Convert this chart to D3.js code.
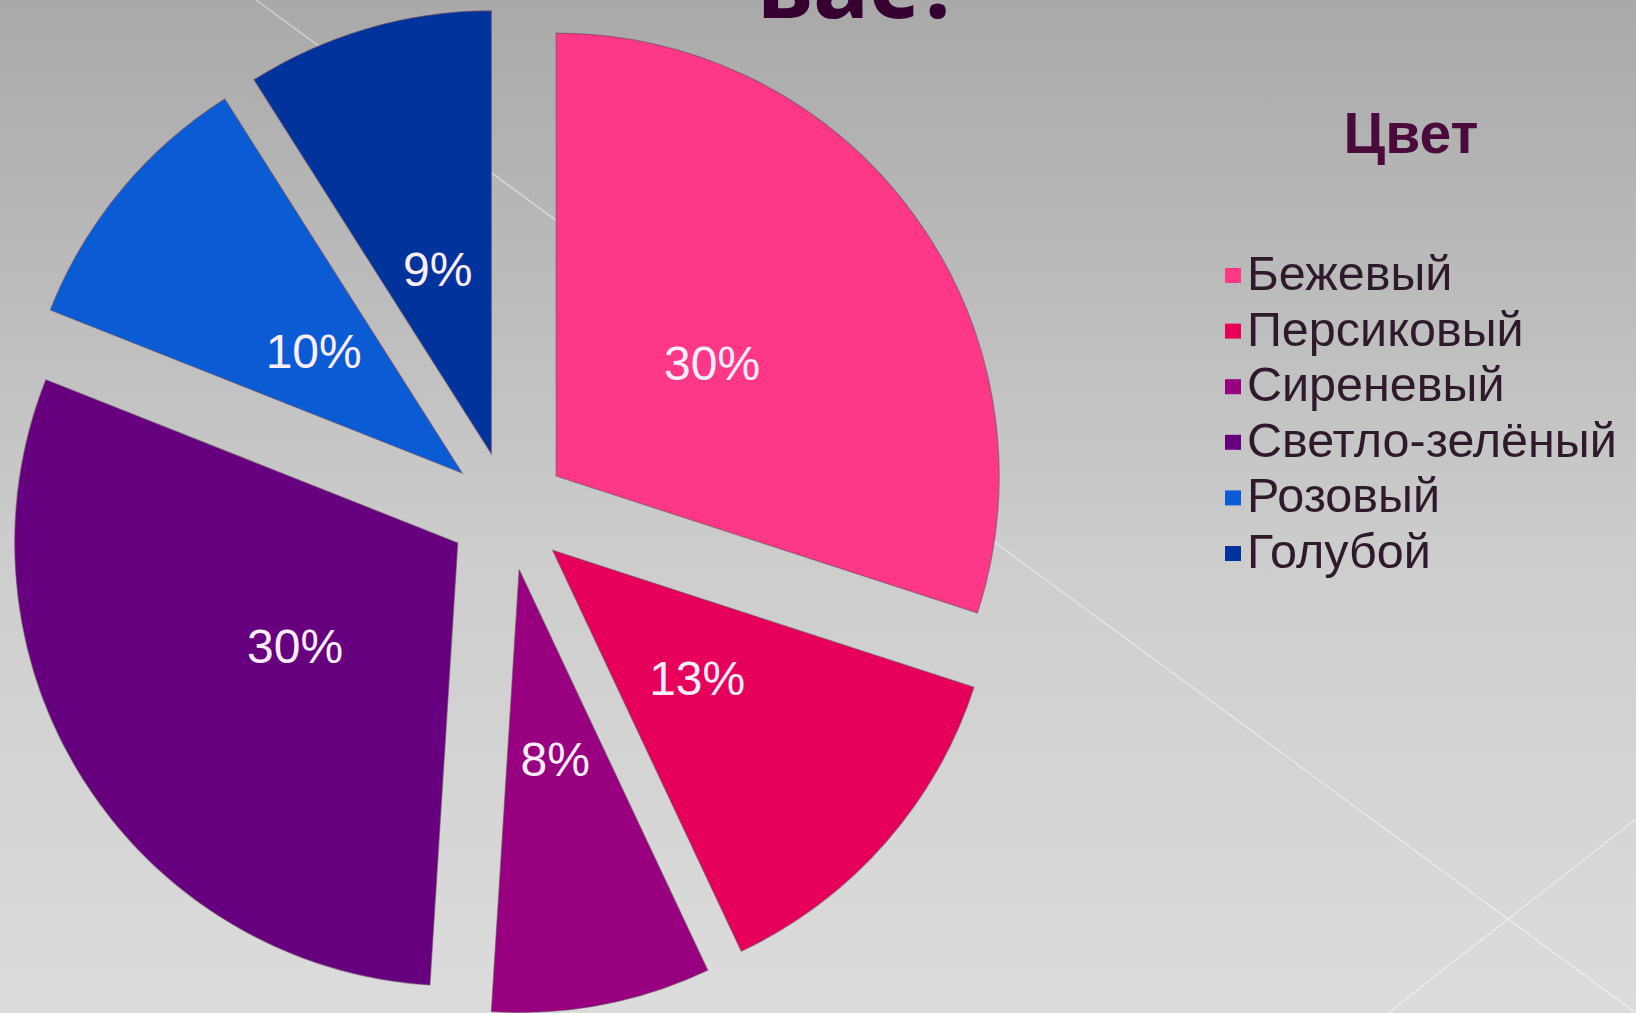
<!DOCTYPE html>
<html>
<head>
<meta charset="utf-8">
<script src="https://cdn.jsdelivr.net/npm/d3@7"></script>
<style>
  html, body { margin: 0; padding: 0; overflow: hidden; }
  svg { display: block; }
</style>
</head>
<body>
<svg width="1636" height="1013"></svg>
<script>
// chart data
var categories = ["Бежевый", "Персиковый", "Сиреневый", "Светло-зелёный", "Розовый", "Голубой"];
var values = [30, 13, 8, 30, 10, 9];
var labels = ["30%", "13%", "8%", "30%", "10%", "9%"];
var colors = ["#fe3787", "#e6005a", "#990080", "#66007f", "#0b5cd4", "#00349c"];
var legendTitle = "Цвет";
var slideTitle = "вас?";

const svg = d3.select("svg"),
  width = +svg.attr("width"),
  height = +svg.attr("height");

// slide background
var defs = svg.append("defs");
var grad = defs.append("linearGradient")
  .attr("id", "bg")
  .attr("x1", 0).attr("y1", 0)
  .attr("x2", 0).attr("y2", 1);
grad.append("stop").attr("offset", "0%").attr("stop-color", "#a9a9a9");
grad.append("stop").attr("offset", "55%").attr("stop-color", "#cdcdcd");
grad.append("stop").attr("offset", "100%").attr("stop-color", "#dcdcdc");

svg.append("rect")
  .attr("width", width)
  .attr("height", height)
  .attr("fill", "url(#bg)");

// thin decorative lines of the slide theme
var deco = svg.append("g")
  .attr("stroke", "#ffffff")
  .attr("stroke-opacity", 0.45)
  .attr("stroke-width", 1.5);
deco.append("line").attr("x1", 256).attr("y1", 0).attr("x2", 1636).attr("y2", 1013);
deco.append("line").attr("x1", 1388).attr("y1", 1013).attr("x2", 1636).attr("y2", 819);

// bottom of the slide heading, cut by the top edge like in the slide
svg.append("text")
  .attr("x", 757)
  .attr("y", 18)
  .style("font-family", "'Noto Sans', sans-serif")
  .style("font-weight", 700)
  .style("font-size", "94px")
  .style("fill", "#350030")
  .text(slideTitle);

// exploded pie
var cx = 508, cy = 511, radius = 443, explode = 59.5;

var pie = d3.pie()
  .sort(null)
  .value(function(d) { return d; });

var arc = d3.arc()
  .innerRadius(0)
  .outerRadius(radius);

var labelArc = d3.arc()
  .innerRadius(radius * 0.435)
  .outerRadius(radius * 0.435);

var arcs = pie(values);

var g = svg.append("g")
  .attr("transform", "translate(" + cx + "," + cy + ")");

let slice = g.selectAll(".slice")
    .data(arcs)
  .enter().append("g")
    .attr("class", "slice")
    .attr("transform", function(d) {
      var mid = (d.startAngle + d.endAngle) / 2;
      return "translate(" + (Math.sin(mid) * explode) + "," + (-Math.cos(mid) * explode) + ")";
    });

slice.append("path")
  .attr("d", arc)
  .style("fill", function(d, i) { return colors[i]; })
  .style("stroke", "#6a4a60")
  .style("stroke-opacity", 0.55)
  .style("stroke-width", "1.2px");

slice.append("text")
  .attr("transform", function(d) { return "translate(" + labelArc.centroid(d) + ")"; })
  .attr("text-anchor", "middle")
  .attr("dy", ".36em")
  .style("font-family", "'Liberation Sans', Arial, sans-serif")
  .style("font-size", "48px")
  .style("fill", "#fdeefc")
  .text(function(d, i) { return labels[i]; });

// legend
var legend = svg.append("g")
  .attr("class", "legend");

legend.append("text")
  .attr("x", 1411)
  .attr("y", 153)
  .attr("text-anchor", "middle")
  .style("font-family", "'Liberation Sans', Arial, sans-serif")
  .style("font-weight", 700)
  .style("font-size", "57px")
  .style("fill", "#4a0b3c")
  .text(legendTitle);

var rowY = d3.scalePoint()
  .domain(categories)
  .range([290, 568]);

let item = legend.selectAll(".item")
    .data(categories)
  .enter().append("g")
    .attr("class", "item")
    .attr("transform", function(d) { return "translate(0," + rowY(d) + ")"; });

item.append("rect")
  .attr("x", 1225)
  .attr("y", -22)
  .attr("width", 16)
  .attr("height", 15)
  .style("fill", function(d, i) { return colors[i]; });

item.append("text")
  .attr("x", 1247)
  .attr("y", 0)
  .style("font-family", "'Liberation Sans', Arial, sans-serif")
  .style("font-size", "48.5px")
  .style("fill", "#2e1a2c")
  .text(d => d);
</script>
</body>
</html>
